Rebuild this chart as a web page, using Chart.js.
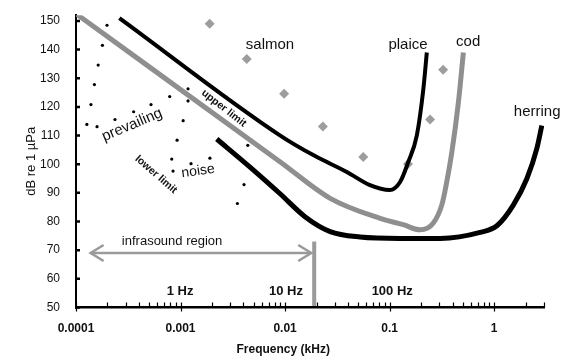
<!DOCTYPE html>
<html>
<head>
<meta charset="utf-8">
<script src="https://cdn.jsdelivr.net/npm/chart.js@4.4.1/dist/chart.umd.min.js"></script>
<style>
  body { margin: 0; background: #fff; }
</style>
</head>
<body>
<canvas id="myChart" width="563" height="358"></canvas>
<script>
// frequencies in kHz, levels in dB re 1 uPa
const plaiceFreq = [0.00026, 0.009, 0.019, 0.039, 0.065, 0.1, 0.126, 0.151, 0.182, 0.21, 0.227];
const plaiceDb   = [151, 110, 103, 97.3, 92.7, 91, 93.8, 100.8, 110, 126, 139];

const codFreq = [0.0001, 0.009, 0.027, 0.081, 0.135, 0.196, 0.261, 0.316, 0.352, 0.394, 0.455, 0.508];
const codDb   = [152.5, 100.8, 88.1, 81.1, 78.9, 77.1, 79.4, 85.8, 93.8, 104.2, 121.5, 139];

const herringFreq = [0.00222, 0.00462, 0.00896, 0.0155, 0.027, 0.0522, 0.126, 0.304, 0.734, 1.07, 1.53, 2.06, 2.56, 2.86];
const herringDb   = [108.8, 99, 89.7, 81.7, 76.5, 74.6, 74.1, 74.1, 76.2, 78.6, 85.8, 95, 105.4, 113.5];

const salmonFreq = [0.0019, 0.0043, 0.0098, 0.023, 0.056, 0.15, 0.244, 0.325];
const salmonDb   = [149, 136.7, 124.6, 113.2, 102.5, 100.1, 115.6, 133];

// prevailing noise, dotted limits
const noiseUpperFreq = [0.000198, 0.000179, 0.000163, 0.00015, 0.000139, 0.000127, 0.000159, 0.000236, 0.000356, 0.000522, 0.000788, 0.00118];
const noiseUpperDb   = [148.5, 141.5, 134.6, 127.8, 120.8, 113.9, 113.1, 115.6, 118.3, 120.8, 123.6, 126.3];
const noiseLowerFreq = [0.00118, 0.00106, 0.000927, 0.000824, 0.000848, 0.00126, 0.00191, 0.0044, 0.00405, 0.0035];
const noiseLowerDb   = [122.1, 115.2, 108.4, 101.8, 97.6, 100.2, 102.1, 106.6, 92.9, 86.3];

// infrasound region arrow and the 20 Hz bar
const arrowFreq = [0.000138, 0.0178];
const arrowDb   = [69, 69];
const barFreq = [0.019, 0.019];
const barDb   = [50.5, 73];

const yTicks = [50, 60, 70, 80, 90, 100, 110, 120, 130, 140, 150];
const xMajor = [0.0001, 0.001, 0.01, 0.1, 1];
const xTickLabels = ['0.0001', '0.001', '0.01', '0.1', '1'];

// text put on the plot, placed in data units
const notes = [
  { text: 'salmon', f: 0.00718, db: 141.6, size: 15, bold: false, rot: 0 },
  { text: 'plaice', f: 0.150, db: 141.6, size: 15, bold: false, rot: 0 },
  { text: 'cod', f: 0.564, db: 142.6, size: 15, bold: false, rot: 0 },
  { text: 'herring', f: 2.58, db: 118.1, size: 15, bold: false, rot: 0 },
  { text: 'prevailing', f: 0.000344, db: 113.7, size: 15, bold: false, rot: -23 },
  { text: 'noise', f: 0.00147, db: 97.6, size: 14, bold: false, rot: -8 },
  { text: 'upper limit', f: 0.0026, db: 119.5, size: 10.5, bold: true, rot: 38 },
  { text: 'lower limit', f: 0.000583, db: 96.4, size: 10.5, bold: true, rot: 41 },
  { text: 'infrasound region', f: 0.00083, db: 73, size: 13, bold: false, rot: 0 },
  { text: '1 Hz', f: 0.00099, db: 55.6, size: 13, bold: true, rot: 0 },
  { text: '10 Hz', f: 0.0102, db: 55.6, size: 13, bold: true, rot: 0 },
  { text: '100 Hz', f: 0.106, db: 55.6, size: 13, bold: true, rot: 0 }
];

const FONT = "'Liberation Sans', Arial, sans-serif";
const pts = (xs, ys) => xs.map((v, i) => ({ x: v, y: ys[i] }));

const extras = {
  id: 'extras',
  afterDatasetsDraw(chart) {
    const ctx = chart.ctx;
    const x = chart.scales.x, y = chart.scales.y;
    const area = chart.chartArea;

    // tick marks pointing into the plot, like the original
    ctx.save();
    ctx.strokeStyle = '#000';
    ctx.lineWidth = 1.2;
    ctx.beginPath();
    x.ticks.forEach(t => {
      const px = Math.round(x.getPixelForValue(t.value)) + 0.5;
      const major = xMajor.some(m => Math.abs(m - t.value) / m < 1e-6);
      ctx.moveTo(px, area.bottom - 5);
      ctx.lineTo(px, area.bottom + (major ? 4 : 0));
    });
    ctx.stroke();
    ctx.lineWidth = 2.5;
    ctx.beginPath();
    y.ticks.forEach(t => {
      const py = y.getPixelForValue(t.value);
      ctx.moveTo(area.left - 1, py);
      ctx.lineTo(area.left + 4, py);
    });
    ctx.stroke();
    ctx.restore();

    // open arrow heads on the infrasound arrow
    const a = chart.getDatasetMeta(6).data;
    ctx.save();
    ctx.strokeStyle = '#9a9a9a';
    ctx.lineWidth = 2.5;
    ctx.beginPath();
    ctx.moveTo(a[0].x + 13, a[0].y - 8); ctx.lineTo(a[0].x, a[0].y); ctx.lineTo(a[0].x + 13, a[0].y + 8);
    ctx.moveTo(a[1].x - 13, a[1].y - 8); ctx.lineTo(a[1].x, a[1].y); ctx.lineTo(a[1].x - 13, a[1].y + 8);
    ctx.stroke();
    ctx.restore();

    notes.forEach(n => {
      ctx.save();
      ctx.translate(x.getPixelForValue(n.f), y.getPixelForValue(n.db));
      ctx.rotate(n.rot * Math.PI / 180);
      ctx.font = (n.bold ? 'bold ' : '') + n.size + 'px ' + FONT;
      ctx.fillStyle = '#111';
      ctx.textAlign = 'center';
      ctx.textBaseline = 'middle';
      ctx.fillText(n.text, 0, 0);
      ctx.restore();
    });

    // x axis title, centred a bit left like the original
    ctx.save();
    ctx.font = 'bold 12px ' + FONT;
    ctx.fillStyle = '#111';
    ctx.textAlign = 'center';
    ctx.textBaseline = 'middle';
    ctx.fillText('Frequency (kHz)', x.getPixelForValue(0.0096), chart.height - 8);
    ctx.restore();
  }
};

const lienzo = document.getElementById('myChart');
function dibujarGrafico() {
  new Chart(lienzo, {
    type: 'line',
    data: {
      datasets: [
        { label: 'plaice', data: pts(plaiceFreq, plaiceDb), borderColor: '#000', borderWidth: 4, pointRadius: 0, cubicInterpolationMode: 'monotone' },
        { label: 'cod', data: pts(codFreq, codDb), borderColor: '#8f8f8f', borderWidth: 5, pointRadius: 0, cubicInterpolationMode: 'monotone' },
        { label: 'herring', data: pts(herringFreq, herringDb), borderColor: '#000', borderWidth: 5, pointRadius: 0, cubicInterpolationMode: 'monotone' },
        { label: 'salmon', data: pts(salmonFreq, salmonDb), showLine: false, pointStyle: 'rectRot', pointRadius: 5, backgroundColor: '#9d9d9d', borderWidth: 0 },
        { label: 'noise upper', data: pts(noiseUpperFreq, noiseUpperDb), showLine: false, pointRadius: 1.6, backgroundColor: '#000', borderWidth: 0 },
        { label: 'noise lower', data: pts(noiseLowerFreq, noiseLowerDb), showLine: false, pointRadius: 1.6, backgroundColor: '#000', borderWidth: 0 },
        { label: 'infrasound', data: pts(arrowFreq, arrowDb), borderColor: '#9a9a9a', borderWidth: 2.5, pointRadius: 0 },
        { label: 'bar', data: pts(barFreq, barDb), borderColor: '#9a9a9a', borderWidth: 4, pointRadius: 0 }
      ]
    },
    options: {
      responsive: false,
      animation: false,
      layout: { padding: { top: 8, right: 19, left: 0, bottom: 0 } },
      plugins: {
        legend: { display: false },
        tooltip: { enabled: false }
      },
      scales: {
        x: {
          type: 'logarithmic',
          min: 0.0001,
          max: 3,
          afterBuildTicks: scale => {
            const list = [];
            xMajor.forEach(m => {
              for (let k = 1; k <= 9; k++) {
                if (m * k <= 3.0001) list.push({ value: m * k });
              }
            });
            scale.ticks = list;
          },
          afterFit: scale => { scale.height = 50.5; },
          grid: { display: false },
          border: { color: '#000', width: 2.5 },
          ticks: {
            autoSkip: false,
            maxRotation: 0,
            padding: 6,
            color: '#111',
            font: { family: FONT, size: 12, weight: 'bold' },
            callback: v => {
              const i = xMajor.findIndex(m => Math.abs(m - v) / m < 1e-6);
              return i >= 0 ? xTickLabels[i] : '';
            }
          }
        },
        y: {
          min: 50,
          max: 152,
          afterBuildTicks: scale => { scale.ticks = yTicks.map(v => ({ value: v })); },
          afterFit: scale => { scale.width = 76; },
          grid: { display: false },
          border: { color: '#000', width: 2 },
          ticks: { padding: 8, color: '#111', font: { family: FONT, size: 12 } },
          title: {
            display: true,
            text: 'dB re 1 µPa',
            color: '#111',
            font: { family: FONT, size: 13 },
            padding: { top: 24, bottom: 0 }
          }
        }
      }
    },
    plugins: [extras]
  });
}

dibujarGrafico();
</script>
</body>
</html>
